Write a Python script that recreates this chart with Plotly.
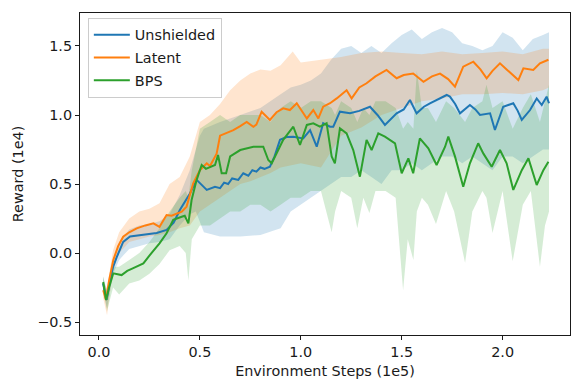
import plotly.graph_objects as go

# ---------------- data (x in 1e5 steps, reward in 1e4) ----------------
unsh_x = [0.02, 0.038, 0.055, 0.07, 0.088, 0.12, 0.154, 0.2, 0.25, 0.286, 0.335, 0.37, 0.40, 0.43, 0.45,
          0.484, 0.505, 0.534, 0.575, 0.6, 0.62, 0.64, 0.66, 0.69, 0.715, 0.74, 0.76, 0.78, 0.80, 0.82,
          0.847, 0.87, 0.897, 0.93, 0.963,
          1.012, 1.046, 1.079, 1.111, 1.145, 1.161, 1.194, 1.244, 1.29, 1.343, 1.38, 1.417, 1.475, 1.51,
          1.541, 1.574, 1.61, 1.64, 1.69, 1.723, 1.739, 1.765, 1.789, 1.838, 1.865, 1.888, 1.938, 1.962,
          2.003, 2.053, 2.075, 2.095, 2.136, 2.169, 2.194, 2.218, 2.23]
unsh_y = [-0.22, -0.34, -0.2, -0.1, -0.03, 0.08, 0.12, 0.13, 0.14, 0.145, 0.167, 0.22, 0.31, 0.38, 0.43,
          0.53, 0.50, 0.457, 0.48, 0.47, 0.51, 0.50, 0.54, 0.53, 0.578, 0.56, 0.60, 0.59, 0.62, 0.61,
          0.625, 0.70, 0.82, 0.84, 0.843,
          0.83, 0.89, 0.77, 0.94, 0.915, 0.915, 1.024, 1.012, 1.03, 1.06, 1.0, 0.928, 1.012, 1.04,
          1.109, 1.012, 1.06, 1.085, 1.12, 1.145, 1.133, 1.08, 1.012, 1.072, 1.04, 1.0, 1.012, 0.891,
          1.06, 1.085, 1.03, 0.964, 1.036, 1.12, 1.072, 1.133, 1.085]
unsh_band_x = [0.02, 0.04, 0.07, 0.1, 0.15, 0.2, 0.25, 0.3, 0.35, 0.4, 0.45, 0.48, 0.5, 0.52, 0.6, 0.7,
               0.8, 0.9, 0.95, 1.0, 1.05, 1.1, 1.15, 1.2, 1.25, 1.3, 1.35, 1.4, 1.45, 1.5, 1.55, 1.6,
               1.65, 1.7, 1.75, 1.8, 1.85, 1.9, 1.95, 2.0, 2.05, 2.1, 2.15, 2.2, 2.23]
unsh_lo = [-0.27, -0.4, -0.15, -0.05, 0.03, 0.05, 0.07, 0.08, 0.1, 0.2, 0.28, 0.3, 0.22, 0.15, 0.12, 0.12,
           0.13, 0.18, 0.3, 0.35, 0.4, 0.45, 0.5, 0.55, 0.55, 0.6, 0.55, 0.5, 0.6, 0.6, 0.65, 0.6,
           0.65, 0.7, 0.7, 0.65, 0.7, 0.65, 0.6, 0.7, 0.7, 0.65, 0.7, 0.75, 0.75]
unsh_hi = [-0.17, -0.28, -0.05, 0.08, 0.17, 0.2, 0.21, 0.23, 0.28, 0.42, 0.6, 0.75, 0.85, 0.9, 0.95, 1.0,
           1.05, 1.15, 1.2, 1.22, 1.25, 1.3, 1.4, 1.48, 1.5, 1.45, 1.5, 1.45, 1.52, 1.58, 1.62, 1.55,
           1.6, 1.63, 1.6, 1.52, 1.5, 1.47, 1.5, 1.6, 1.56, 1.47, 1.55, 1.58, 1.6]

lat_x = [0.021, 0.035, 0.05, 0.071, 0.095, 0.12, 0.15, 0.187, 0.23, 0.27, 0.30, 0.335, 0.36, 0.385, 0.41,
         0.434, 0.467, 0.5, 0.534, 0.55, 0.583, 0.6, 0.63, 0.666, 0.7, 0.732, 0.765, 0.78, 0.806, 0.847,
         0.88, 0.913, 0.946, 0.98, 1.03, 1.062, 1.087, 1.111, 1.145, 1.178, 1.227, 1.252, 1.29, 1.326,
         1.37, 1.425, 1.475, 1.51, 1.557, 1.608, 1.65, 1.69, 1.73, 1.764, 1.805, 1.855, 1.89, 1.921,
         1.95, 1.987, 2.02, 2.053, 2.078, 2.103, 2.152, 2.185, 2.227]
lat_y = [-0.27, -0.34, -0.2, -0.05, 0.05, 0.118, 0.15, 0.179, 0.2, 0.215, 0.19, 0.275, 0.27, 0.288, 0.3,
         0.336, 0.505, 0.6, 0.65, 0.63, 0.72, 0.85, 0.87, 0.89, 0.92, 0.95, 0.915, 0.93, 1.024, 0.964,
         1.02, 1.048, 1.036, 1.085, 0.975, 1.036, 0.975, 1.06, 1.085, 1.12, 1.18, 1.12, 1.2, 1.23,
         1.28, 1.326, 1.266, 1.29, 1.30, 1.241, 1.28, 1.30, 1.26, 1.205, 1.35, 1.386, 1.33, 1.266,
         1.32, 1.374, 1.33, 1.29, 1.253, 1.338, 1.326, 1.374, 1.40]
lat_band_x = [0.02, 0.04, 0.07, 0.1, 0.15, 0.2, 0.25, 0.3, 0.35, 0.4, 0.45, 0.5, 0.55, 0.6, 0.65, 0.7,
              0.75, 0.8, 0.85, 0.9, 0.96, 1.0, 1.1, 1.2, 1.3, 1.4, 1.5, 1.6, 1.7, 1.8, 1.9, 2.0, 2.1, 2.2, 2.23]
lat_lo = [-0.32, -0.45, -0.12, 0.0, 0.08, 0.1, 0.12, 0.13, 0.15, 0.18, 0.2, 0.3, 0.35, 0.4, 0.45, 0.5,
          0.52, 0.55, 0.58, 0.62, 0.64, 0.65, 0.62, 0.85, 0.91, 1.0, 1.05, 1.1, 1.12, 1.15, 1.15, 1.16, 1.15, 1.18, 1.2]
lat_hi = [-0.22, -0.25, 0.02, 0.15, 0.25, 0.3, 0.32, 0.36, 0.5, 0.55, 0.7, 0.95, 1.0, 1.08, 1.18, 1.25,
          1.3, 1.33, 1.32, 1.36, 1.46, 1.38, 1.4, 1.42, 1.45, 1.46, 1.45, 1.44, 1.46, 1.44, 1.45, 1.46, 1.44, 1.48, 1.48]

bps_x = [0.021, 0.035, 0.05, 0.071, 0.112, 0.14, 0.17, 0.22, 0.26, 0.30, 0.335, 0.368, 0.41, 0.425, 0.443,
         0.459, 0.484, 0.509, 0.53, 0.55, 0.575, 0.59, 0.608, 0.63, 0.65, 0.70, 0.765, 0.814, 0.839,
         0.856, 0.88, 0.913, 0.963, 0.996, 1.03, 1.062, 1.095, 1.128, 1.153, 1.169, 1.194, 1.227, 1.26,
         1.293, 1.326, 1.351, 1.384, 1.417, 1.467, 1.50, 1.533, 1.557, 1.59, 1.632, 1.673, 1.715, 1.731,
         1.764, 1.805, 1.838, 1.879, 1.905, 1.946, 1.987, 2.02, 2.053, 2.095, 2.128, 2.169, 2.202, 2.227]
bps_y = [-0.21, -0.34, -0.25, -0.147, -0.16, -0.13, -0.11, -0.075, 0.0, 0.07, 0.143, 0.24, 0.263, 0.27, 0.215,
         0.384, 0.53, 0.638, 0.61, 0.625, 0.638, 0.71, 0.578, 0.578, 0.70, 0.746, 0.77, 0.77, 0.674,
         0.65, 0.72, 0.82, 0.915, 0.783, 0.928, 0.94, 0.915, 0.94, 0.70, 0.65, 0.904, 0.867, 0.746,
         0.553, 0.82, 0.746, 0.867, 0.843, 0.795, 0.578, 0.686, 0.578, 0.83, 0.759, 0.638, 0.77, 0.843,
         0.70, 0.48, 0.65, 0.795, 0.72, 0.625, 0.746, 0.65, 0.457, 0.60, 0.686, 0.493, 0.60, 0.662]
bps_band_x = [0.02, 0.04, 0.07, 0.1, 0.15, 0.2, 0.25, 0.3, 0.35, 0.4, 0.43, 0.443, 0.46, 0.5, 0.55, 0.6,
              0.65, 0.7, 0.75, 0.8, 0.85, 0.9, 0.95, 1.0, 1.05, 1.1, 1.153, 1.17, 1.2, 1.25, 1.28, 1.31,
              1.34, 1.37, 1.42, 1.47, 1.507, 1.53, 1.558, 1.575, 1.6, 1.63, 1.67, 1.72, 1.76, 1.814, 1.85, 1.9,
              1.92, 1.95, 2.0, 2.05, 2.1, 2.14, 2.185, 2.21, 2.23]
bps_lo = [-0.27, -0.42, -0.25, -0.3, -0.22, -0.2, -0.15, -0.08, 0.02, 0.05, 0.0, -0.2, 0.1, 0.2, 0.2, 0.25,
          0.3, 0.3, 0.35, 0.35, 0.3, 0.35, 0.4, 0.4, 0.45, 0.45, 0.15, 0.3, 0.45, 0.4, 0.18, 0.4,
          0.29, 0.45, 0.45, 0.4, -0.27, 0.1, -0.05, 0.3, 0.4, 0.35, 0.21, 0.45, 0.3, -0.07, 0.3, 0.45,
          0.4, 0.145, 0.45, -0.06, 0.35, 0.45, -0.1, 0.2, 0.3]
bps_hi = [-0.17, -0.28, -0.1, -0.1, -0.05, 0.0, 0.08, 0.18, 0.3, 0.4, 0.45, 0.4, 0.6, 0.9, 0.95, 1.0,
          0.95, 1.0, 1.0, 1.0, 0.95, 1.05, 1.1, 1.05, 1.1, 1.1, 1.05, 1.0, 1.1, 1.05, 0.95, 1.05,
          1.0, 1.1, 1.1, 1.05, 0.9, 0.95, 0.9, 1.32, 1.05, 1.05, 0.95, 1.1, 1.05, 0.95, 1.05, 1.1,
          1.22, 1.05, 1.1, 0.9, 1.05, 1.15, 0.95, 1.1, 1.22]

series = [
    ("Unshielded", unsh_x, unsh_y, unsh_band_x, unsh_lo, unsh_hi, "#1f77b4", "rgba(31,119,180,0.2)"),
    ("Latent", lat_x, lat_y, lat_band_x, lat_lo, lat_hi, "#ff7f0e", "rgba(255,127,14,0.2)"),
    ("BPS", bps_x, bps_y, bps_band_x, bps_lo, bps_hi, "#2ca02c", "rgba(44,160,44,0.2)"),
]

x_ticks = [0.0, 0.5, 1.0, 1.5, 2.0]
y_ticks = [-0.5, 0.0, 0.5, 1.0, 1.5]

FS = 14.4
TXT = "#1a1a1a"

fig = go.Figure()
for name, mx, my, bx, lo, hi, col, fcol in series:
    fig.add_trace(go.Scatter(x=bx, y=lo, mode="lines", line=dict(width=0, color=fcol),
                             showlegend=False, hoverinfo="skip"))
    fig.add_trace(go.Scatter(x=bx, y=hi, mode="lines", line=dict(width=0, color=fcol),
                             fill="tonexty", fillcolor=fcol, showlegend=False, hoverinfo="skip"))
for name, mx, my, bx, lo, hi, col, fcol in series:
    fig.add_trace(go.Scatter(x=mx, y=my, mode="lines", name=name, legendgroup=name,
                             line=dict(width=2, color=col)))

axis_common = dict(showline=True, mirror=True, linecolor=TXT, linewidth=1,
                   ticks="outside", ticklen=4, tickcolor=TXT, showgrid=False, zeroline=False,
                   tickfont=dict(family="DejaVu Sans", size=FS, color=TXT))

fig.update_layout(
    width=575, height=382,
    margin=dict(l=80, r=5, t=13, b=47),
    paper_bgcolor="white", plot_bgcolor="white",
    font=dict(family="DejaVu Sans", size=FS, color=TXT),
    xaxis=dict(range=[-0.094, 2.334], tickvals=x_ticks, tickformat=".1f",
               title=dict(text="Environment Steps (1e5)", standoff=6, font=dict(size=FS)),
               **axis_common),
    yaxis=dict(range=[-0.594, 1.739], tickvals=y_ticks, tickformat=".1f",
               title=dict(text="Reward (1e4)", standoff=10, font=dict(size=FS)),
               **axis_common),
    legend=dict(x=0.016, y=0.985, xanchor="left", yanchor="top",
                bgcolor="rgba(255,255,255,0.85)", bordercolor="#ccc", borderwidth=1,
                font=dict(family="DejaVu Sans", size=FS, color=TXT),
                tracegroupgap=1, itemwidth=36),
)

fig.write_html("out.html")
